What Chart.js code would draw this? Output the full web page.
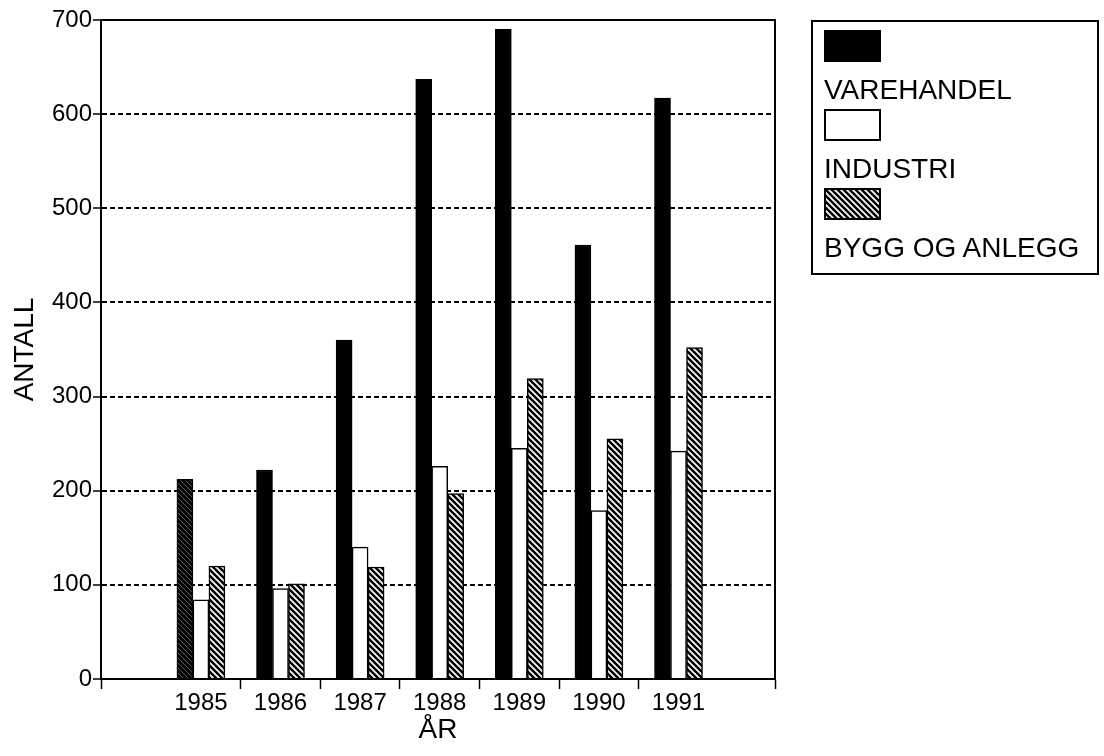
<!DOCTYPE html>
<html>
<head>
<meta charset="utf-8">
<script src="https://cdn.jsdelivr.net/npm/chart.js@4.4.0/dist/chart.umd.min.js"></script>
<style>
  body { margin: 0; background: #fff; font-family: "Liberation Sans", Arial, Helvetica, sans-serif; }
  #wrap { position: relative; width: 1104px; height: 756px; }
  #legend {
    position: absolute; left: 811px; top: 20px; width: 288px; height: 255px;
    box-sizing: border-box; border: 2px solid #000; padding: 8px 0 0 11px;
  }
  #legend .item { margin-bottom: 2px; }
  #legend canvas { display: block; }
  #legend span { display: block; margin-top: 11px; line-height: 34px; font-size: 28px; color: #000; white-space: nowrap; }
</style>
</head>
<body>
<div id="wrap">
  <canvas id="chart" width="1104" height="756"></canvas>
  <div id="legend"></div>
</div>
<script>
const years = [1985, 1986, 1987, 1988, 1989, 1990, 1991];
const varehandel = [212, 222, 360, 637, 690, 461, 617];
const industri = [84, 96, 140, 226, 245, 179, 242];
const byggOgAnlegg = [120, 101, 119, 197, 319, 255, 352];
const seriesNames = ["VAREHANDEL", "INDUSTRI", "BYGG OG ANLEGG"];

// x range of the original axis (it runs past the first and last year)
const X_MIN = 1983.745;
const X_MAX = 1992.212;

function hatch(bg, fg, lw, s) {
  const c = document.createElement("canvas");
  c.width = c.height = s;
  const g = c.getContext("2d");
  g.fillStyle = bg;
  g.fillRect(0, 0, s, s);
  g.strokeStyle = fg;
  g.lineWidth = lw;
  g.beginPath();
  [-s, 0, s].forEach((k) => {
    g.moveTo(k - 1, -1);
    g.lineTo(k + s + 1, s + 1);
  });
  g.stroke();
  return g.createPattern(c, "repeat");
}

const hatchFill = hatch("#fff", "#000", 2.5, 6);
const darkHatch = hatch("#000", "rgba(255,255,255,0.55)", 0.7, 5);

const frame = {
  id: "frame",
  afterDatasetsDraw(chart) {
    const { ctx, chartArea: a } = chart;
    ctx.save();
    ctx.strokeStyle = "#000";
    ctx.lineWidth = 2;
    ctx.beginPath();
    ctx.moveTo(a.left, a.top);
    ctx.lineTo(a.right, a.top);
    ctx.lineTo(a.right, a.bottom);
    ctx.stroke();
    ctx.restore();
  }
};

const isYear = (v) => years.includes(v);

const chart = new Chart(document.getElementById("chart"), {
  type: "bar",
  data: {
    labels: years,
    datasets: [
      {
        label: seriesNames[0],
        data: varehandel,
        backgroundColor: varehandel.map((v, i) => (i === 0 ? darkHatch : "#000")),
        borderColor: "#000",
        borderWidth: 1.5
      },
      {
        label: seriesNames[1],
        data: industri,
        backgroundColor: "#fff",
        borderColor: "#000",
        borderWidth: 1.5
      },
      {
        label: seriesNames[2],
        data: byggOgAnlegg,
        backgroundColor: hatchFill,
        borderColor: "#000",
        borderWidth: 1.5
      }
    ]
  },
  options: {
    responsive: false,
    animation: false,
    events: [],
    layout: { padding: { top: 20, right: 329, left: 0, bottom: 0 } },
    datasets: { bar: { barThickness: 16 } },
    plugins: { legend: { display: false }, tooltip: { enabled: false } },
    scales: {
      x: {
        type: "linear",
        min: X_MIN,
        max: X_MAX,
        offset: false,
        afterBuildTicks: (scale) => {
          const vals = [X_MIN];
          years.forEach((y, i) => {
            vals.push(y);
            if (i < years.length - 1) vals.push(y + 0.5);
          });
          vals.push(X_MAX);
          scale.ticks = vals.map((value) => ({ value }));
        },
        afterFit: (scale) => { scale.height = 77; },
        ticks: {
          autoSkip: false,
          maxRotation: 0,
          padding: 0,
          color: "#000",
          font: { family: "'Liberation Sans', Arial, sans-serif", size: 24 },
          callback: (v) => (isYear(v) ? String(v) : "")
        },
        grid: {
          offset: false,
          drawOnChartArea: false,
          tickLength: 10,
          tickWidth: 1.5,
          tickColor: (c) => (c.tick && isYear(c.tick.value) ? "rgba(0,0,0,0)" : "#000")
        },
        border: { color: "#000", width: 2 },
        title: {
          display: true,
          text: "ÅR",
          color: "#000",
          padding: { top: 0, bottom: 9 },
          font: { family: "'Liberation Sans', Arial, sans-serif", size: 28 }
        }
      },
      y: {
        min: 0,
        max: 700,
        afterFit: (scale) => { scale.width = 101; },
        ticks: {
          stepSize: 100,
          padding: 1,
          color: "#000",
          font: { family: "'Liberation Sans', Arial, sans-serif", size: 24 }
        },
        grid: {
          lineWidth: 2,
          color: (c) => (c.tick && c.tick.value > 0 && c.tick.value < 700 ? "#000" : "rgba(0,0,0,0)"),
          tickColor: "#000",
          tickLength: 8,
          tickWidth: 1.5
        },
        border: { color: "#000", width: 2, dash: [5, 3] },
        title: {
          display: true,
          text: "ANTALL",
          color: "#000",
          padding: { top: 8, bottom: 0 },
          font: { family: "'Liberation Sans', Arial, sans-serif", size: 28 }
        }
      }
    }
  },
  plugins: [frame]
});

// legend built from the chart's datasets: swatch above the label
const legendEl = document.getElementById("legend");
chart.data.datasets.forEach((ds) => {
  const item = document.createElement("div");
  item.className = "item";
  const sw = document.createElement("canvas");
  sw.width = 57;
  sw.height = 32;
  const g = sw.getContext("2d");
  g.fillStyle = ds.label === seriesNames[0] ? "#000" : (ds.backgroundColor);
  g.fillRect(0, 0, 57, 32);
  g.strokeStyle = "#000";
  g.lineWidth = 2;
  g.strokeRect(1, 1, 55, 30);
  const txt = document.createElement("span");
  txt.textContent = ds.label;
  item.appendChild(sw);
  item.appendChild(txt);
  legendEl.appendChild(item);
});
</script>
</body>
</html>
